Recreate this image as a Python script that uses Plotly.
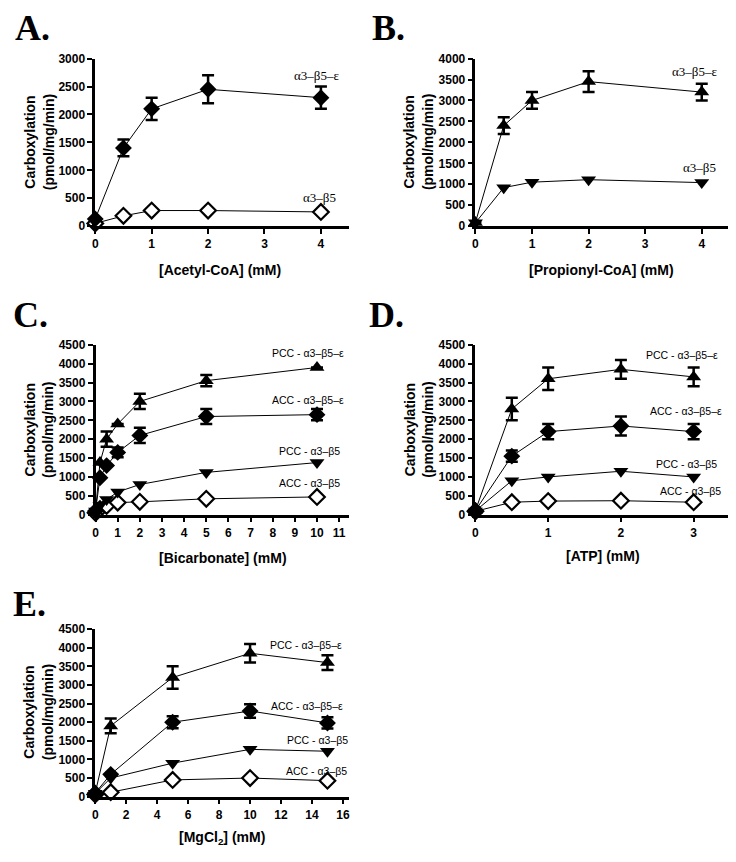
import plotly.graph_objects as go

# Page is 736x862; the html body adds an 8px margin, so the figure is drawn 8px smaller
PAGE_W, PAGE_H = 736, 862
OFF = 8
W, H = PAGE_W - OFF, PAGE_H - OFF

# ---------------- Data ----------------
# Panel A: Acetyl-CoA
a_x = [0, 0.5, 1, 2, 4]
a_eps = [130, 1400, 2100, 2450, 2300]
a_eps_err = [None, 150, 200, 250, 200]
a_b5 = [50, 185, 280, 280, 255]

# Panel B: Propionyl-CoA
b_x = [0, 0.5, 1, 2, 4]
b_eps = [90, 2400, 3000, 3450, 3200]
b_eps_err = [None, 200, 200, 250, 200]
b_b5 = [80, 920, 1050, 1110, 1040]

# Panel C: Bicarbonate
c_x = [0, 0.2, 0.5, 1, 2, 5, 10]
c_pcc_eps = [100, 1380, 2000, 2400, 3000, 3550, 3900]
c_pcc_eps_err = [None, None, 200, None, 200, 150, None]
c_acc_eps = [100, 980, 1300, 1650, 2100, 2600, 2650]
c_acc_eps_err = [None, None, None, 130, 200, 200, 150]
c_pcc_b5 = [100, 250, 400, 600, 800, 1120, 1380]
c_acc_b5 = [50, 150, 230, 320, 340, 420, 470]

# Panel D: ATP
d_x = [0, 0.5, 1, 2, 3]
d_pcc_eps = [110, 2800, 3600, 3850, 3650]
d_pcc_eps_err = [None, 300, 300, 250, 250]
d_acc_eps = [110, 1550, 2200, 2350, 2200]
d_acc_eps_err = [None, 150, 200, 250, 200]
d_pcc_b5 = [100, 900, 1000, 1150, 1000]
d_acc_b5 = [90, 330, 360, 370, 330]

# Panel E: MgCl2
e_x = [0, 1, 5, 10, 15]
e_pcc_eps = [100, 1900, 3200, 3850, 3600]
e_pcc_eps_err = [None, 200, 300, 250, 200]
e_acc_eps = [100, 600, 2000, 2300, 1980]
e_acc_eps_err = [None, None, 160, 180, 150]
e_pcc_b5 = [90, 500, 900, 1270, 1220]
e_acc_b5 = [60, 120, 450, 500, 430]

# ---------------- Layout helpers (page pixels -> paper) ----------------
def fx(px):
    return (px - OFF) / W

def fy(py):
    return 1 - (py - OFF) / H

panels = {
    # name: (x_left_px, x_right_px, y_top_px, y_bottom_px, xrange, yrange, xdtick, ydtick)
    "A": (92.7, 348, 52.3, 222.7, [0, 4.5], [0, 3000], 1, 500),
    "B": (475, 731, 52.3, 222.7, [0, 4.5], [0, 4000], 1, 500),
    "C": (93, 348, 343.3, 516, [0, 11.45], [0, 4500], 1, 500),
    "D": (475, 731, 343.3, 516, [0, 3.5], [0, 4500], 1, 500),
    "E": (92.7, 348, 632.3, 802.7, [0, 16.4], [0, 4500], 2, 500),
}

fig = go.Figure()
tickfont = dict(family="Liberation Sans", size=12, color="black", weight="bold")

axis_ids = {}
for i, (name, (xl, xr, yt, yb, xrng, yrng, xdt, ydt)) in enumerate(panels.items()):
    n = "" if i == 0 else str(i + 1)
    axis_ids[name] = ("x" + n, "y" + n)
    common = dict(showline=True, linewidth=2.5, linecolor="black", ticks="outside",
                  ticklen=5, tickwidth=2, tickcolor="black", showgrid=False,
                  zeroline=False, tickfont=tickfont, fixedrange=True)
    fig.layout["xaxis" + n] = dict(domain=[fx(xl), min(fx(xr), 1)], range=xrng, anchor="y" + n,
                                   tickmode="linear", tick0=0, dtick=xdt, **common)
    fig.layout["yaxis" + n] = dict(domain=[fy(yb), fy(yt)], range=yrng, anchor="x" + n,
                                   tickmode="linear", tick0=0, dtick=ydt, **common)

def add_series(panel, x, y, symbol, err=None, open_marker=False, size=13):
    xa, ya = axis_ids[panel]
    marker = dict(symbol=symbol, size=size, color="black", line=dict(color="black", width=0))
    if open_marker:
        marker = dict(symbol=symbol, size=size - 1, color="white", line=dict(color="black", width=2.2))
    kw = {}
    if err is not None:
        kw["error_y"] = dict(type="data", array=err, symmetric=True, visible=True,
                             color="black", thickness=2.5, width=6)
    fig.add_trace(go.Scatter(x=x, y=y, mode="lines+markers", xaxis=xa, yaxis=ya,
                             line=dict(color="black", width=1), marker=marker,
                             cliponaxis=False, showlegend=False, **kw))

add_series("A", a_x, a_b5, "diamond", open_marker=True)
add_series("A", a_x, a_eps, "diamond", err=a_eps_err)

add_series("B", b_x, b_b5, "triangle-down")
add_series("B", b_x, b_eps, "triangle-up", err=b_eps_err)

add_series("C", c_x, c_acc_b5, "diamond", open_marker=True)
add_series("C", c_x, c_pcc_b5, "triangle-down")
add_series("C", c_x, c_acc_eps, "diamond", err=c_acc_eps_err)
add_series("C", c_x, c_pcc_eps, "triangle-up", err=c_pcc_eps_err)

add_series("D", d_x, d_acc_b5, "diamond", open_marker=True)
add_series("D", d_x, d_pcc_b5, "triangle-down")
add_series("D", d_x, d_acc_eps, "diamond", err=d_acc_eps_err)
add_series("D", d_x, d_pcc_eps, "triangle-up", err=d_pcc_eps_err)

add_series("E", e_x, e_acc_b5, "diamond", open_marker=True)
add_series("E", e_x, e_pcc_b5, "triangle-down")
add_series("E", e_x, e_acc_eps, "diamond", err=e_acc_eps_err)
add_series("E", e_x, e_pcc_eps, "triangle-up", err=e_pcc_eps_err)

annotations = []

# Panel letters
letters = [("A.", 10, 21.5), ("B.", 369, 21.5), ("C.", 8, 312.5), ("D.", 366, 312.5), ("E.", 8, 606.5)]
for t, px, py in letters:
    annotations.append(dict(text=t, x=fx(px), y=fy(py), xref="paper", yref="paper",
                            xanchor="left", yanchor="middle", showarrow=False,
                            font=dict(family="Liberation Serif", size=36, color="black", weight="bold")))

# Y-axis titles
ytitle = "Carboxylation<br>(pmol/mg/min)"
for px, py in [(37, 137.5), (418, 137.5), (36, 430), (418, 430), (36, 717)]:
    annotations.append(dict(text=ytitle, x=fx(px), y=fy(py), xref="paper", yref="paper",
                            xanchor="center", yanchor="middle", textangle=-90, showarrow=False,
                            font=dict(family="Liberation Sans", size=14, color="black", weight="bold")))

# X-axis titles
xtitles = [("[Acetyl-CoA] (mM)", 218, 267), ("[Propionyl-CoA] (mM)", 602, 267),
           ("[Bicarbonate] (mM)", 221, 560), ("[ATP] (mM)", 603, 558),
           ("[MgCl<sub>2</sub>] (mM)", 220, 845)]
for t, px, py in xtitles:
    annotations.append(dict(text=t, x=fx(px), y=fy(py), xref="paper", yref="paper",
                            xanchor="center", yanchor="middle", showarrow=False,
                            font=dict(family="Liberation Sans", size=14, color="black", weight="bold")))

# Curve labels: positioned in the panel's data frame, converted to paper so they may sit past the axis end
def curve_label(panel, text, x, y, size, family, anchor="center"):
    xl, xr, yt, yb, xrng, yrng, _, _ = panels[panel]
    px = xl + (x - xrng[0]) / (xrng[1] - xrng[0]) * (xr - xl)
    py = yb - (y - yrng[0]) / (yrng[1] - yrng[0]) * (yb - yt)
    annotations.append(dict(text=text, x=fx(px), y=fy(py), xref="paper", yref="paper",
                            xanchor=anchor, yanchor="middle", showarrow=False,
                            font=dict(family=family, size=size, color="black")))

serif = "Liberation Serif"
narrow = "Liberation Sans Narrow, Arial Narrow, Liberation Sans"
curve_label("A", "α3–β5–ε", 3.92, 2690, 13, serif)
curve_label("A", "α3–β5", 3.97, 520, 13, serif)
curve_label("B", "α3–β5–ε", 3.88, 3680, 13, serif)
curve_label("B", "α3–β5", 3.96, 1400, 13, serif)

lab_eps_pcc = "PCC - α3–β5–ε"
lab_eps_acc = "ACC - α3–β5–ε"
lab_pcc = "PCC - α3–β5"
lab_acc = "ACC - α3–β5"
fs = 10.5
curve_label("C", lab_eps_pcc, 11.32, 4280, fs, narrow, "right")
curve_label("C", lab_eps_acc, 11.32, 3040, fs, narrow, "right")
curve_label("C", lab_pcc, 11.11, 1675, fs, narrow, "right")
curve_label("C", lab_acc, 11.11, 834, fs, narrow, "right")

curve_label("D", lab_eps_pcc, 3.36, 4240, fs, narrow, "right")
curve_label("D", lab_eps_acc, 3.415, 2735, fs, narrow, "right")
curve_label("D", lab_pcc, 3.35, 1355, fs, narrow, "right")
curve_label("D", lab_acc, 3.40, 634, fs, narrow, "right")

curve_label("E", lab_eps_pcc, 16.09, 4070, fs, narrow, "right")
curve_label("E", lab_eps_acc, 16.15, 2437, fs, narrow, "right")
curve_label("E", lab_pcc, 16.47, 1518, fs, narrow, "right")
curve_label("E", lab_acc, 16.41, 696, fs, narrow, "right")

fig.update_layout(width=W, height=H, autosize=False,
                  margin=dict(l=0, r=0, t=0, b=0),
                  paper_bgcolor="white", plot_bgcolor="white",
                  annotations=annotations, showlegend=False)

fig.write_html("out.html")
